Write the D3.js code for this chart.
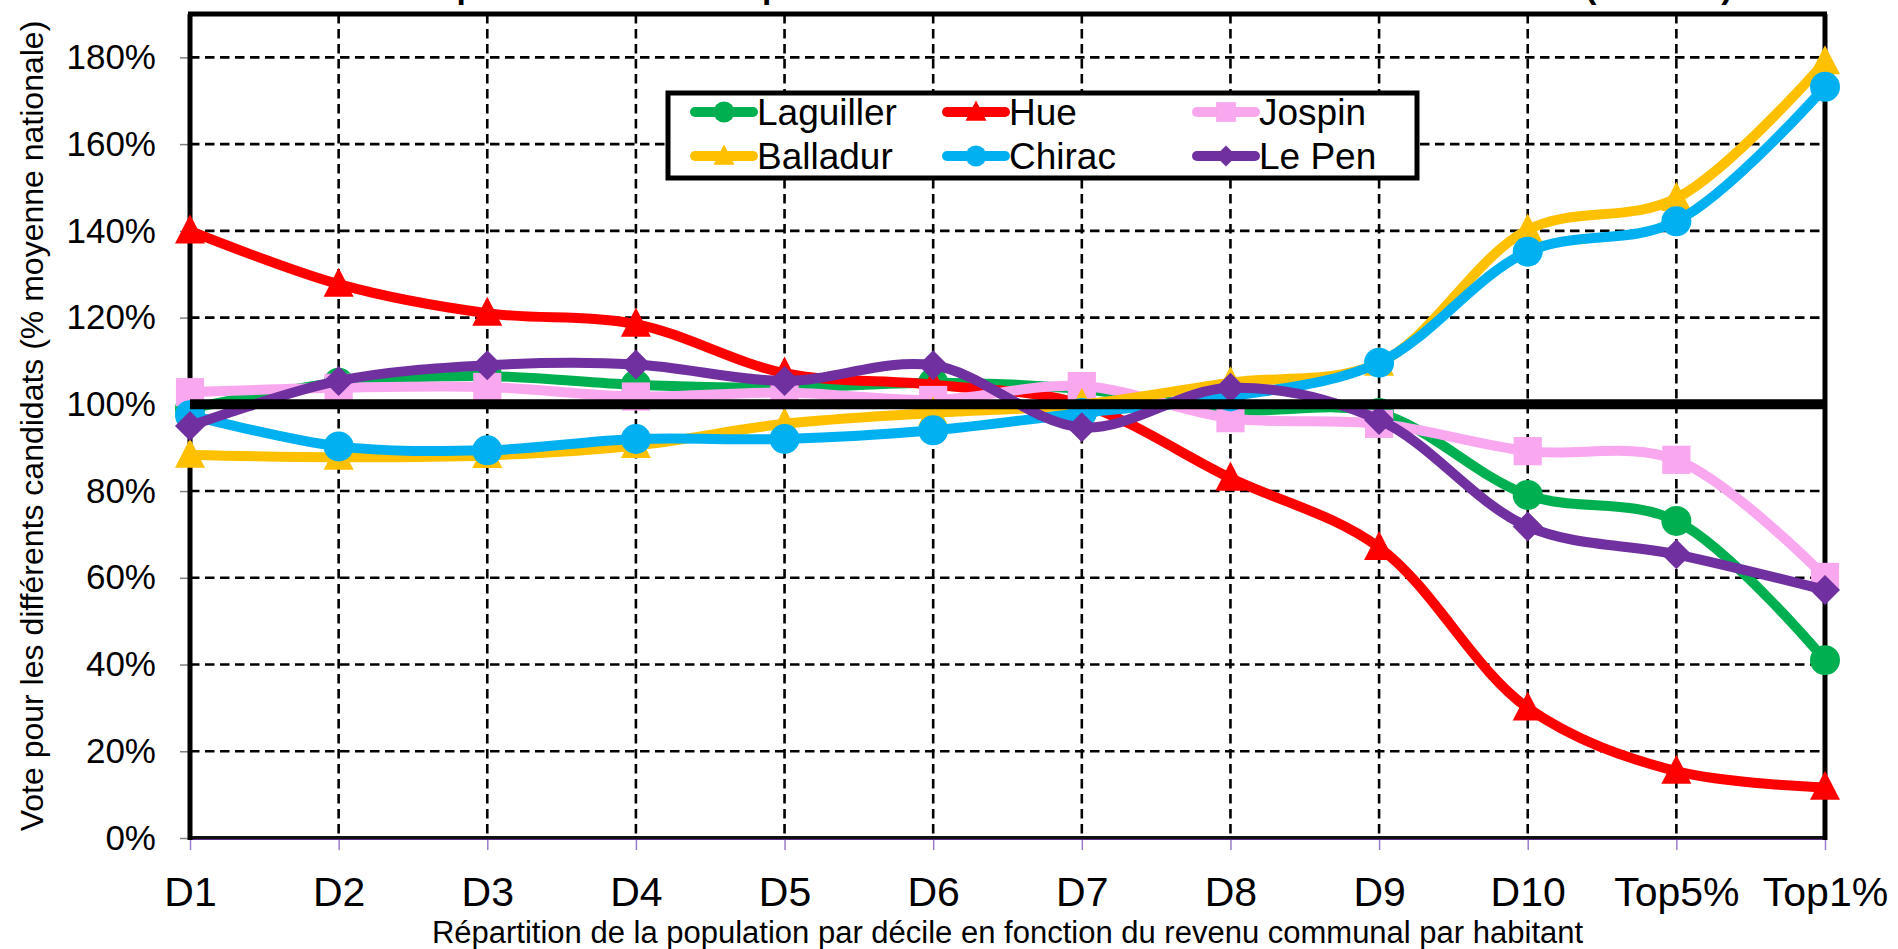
<!DOCTYPE html>
<html><head><meta charset="utf-8">
<script src="https://cdn.jsdelivr.net/npm/d3@7/dist/d3.min.js"></script>
<style>
body{margin:0;background:#fff;}
svg{display:block;font-family:Arial,"Liberation Sans",sans-serif;}
</style>
</head><body>
<svg id="chart" width="1898" height="949"></svg>
<script>
// ---------- data ----------
const categories = ["D1","D2","D3","D4","D5","D6","D7","D8","D9","D10","Top5%","Top1%"];
const laguiller = [99, 105, 106.5, 104.5, 103.8, 105, 103.5, 98.7, 98, 79.1, 73.1, 41];
const hue       = [140, 127.7, 121, 118.5, 107.2, 104.5, 100, 83, 67, 30, 15.4, 11.7];
const jospin    = [102.8, 103.8, 104, 101.8, 102.7, 101, 104.2, 96.8, 95.5, 89.2, 87.2, 60.2];
const balladur  = [88.3, 87.8, 88.2, 90.5, 95.5, 98, 100, 105, 109.5, 140.2, 147.5, 179];
const chirac    = [97.5, 90.3, 89.4, 92, 92, 94, 98, 101.8, 109.6, 135.2, 142.2, 173.2];
const lePen     = [95, 105.4, 109, 109.2, 105.4, 109, 94.7, 103.8, 96.4, 71.8, 65.4, 57.2];
const moyenne   = [100,100,100,100,100,100,100,100,100,100,100,100];
const yTicks = [0,20,40,60,80,100,120,140,160,180];
const seriesNames = ["Laguiller","Hue","Jospin","Balladur","Chirac","Le Pen"];
const seriesValues = [laguiller, hue, jospin, balladur, chirac, lePen];
const seriesColors = ["#00B050","#FF0000","#F9A7EF","#FFC000","#00B0F0","#7030A0"];
const seriesSymbols = ["circle","triangle","square","triangle","circle","diamond"];
const titleText = "Le vote pour les candidats par décile de revenu communal à l'élection de 1995 (1er tour)";
const xTitle = "Répartition de la population par décile en fonction du revenu communal par habitant";
const yTitle = "Vote pour les différents candidats (% moyenne nationale)";

// ---------- layout ----------
const svg = d3.select("#chart");
const L = 190, R = 1825, T = 14, B = 838;
const x = d3.scalePoint().domain(categories).range([L, R]);
const y = d3.scaleLinear().domain([0, 190]).range([B, T]);

function symbolPath(type, s) {
  const h = s / 2;
  if (type === "circle") return `M${-h},0A${h},${h} 0 1,0 ${h},0A${h},${h} 0 1,0 ${-h},0Z`;
  if (type === "square") { const q = s * 0.47; return `M${-q},${-q}H${q}V${q}H${-q}Z`; }
  if (type === "triangle") return `M0,${-s*0.55}L${h},${s*0.42}L${-h},${s*0.42}Z`;
  if (type === "diamond") return `M0,${-h}L${h},0L0,${h}L${-h},0Z`;
}

// title (mostly above the visible area, as in the reference)
svg.append("text").attr("x", 330).attr("y", -2)
  .attr("font-size", 33.5).attr("font-weight", "bold").attr("fill", "#000")
  .text(titleText);

// gridlines
const gGrid = svg.append("g");
gGrid.selectAll("line.h").data(yTicks.filter(d => d !== 0 && d !== 100)).join("line")
  .attr("x1", L).attr("x2", R).attr("y1", d => y(d)).attr("y2", d => y(d))
  .attr("stroke", "#000").attr("stroke-width", 2.6).attr("stroke-dasharray", "9.5,5.5");
gGrid.selectAll("line.v").data(categories.slice(1, -1)).join("line")
  .attr("x1", d => x(d)).attr("x2", d => x(d)).attr("y1", T).attr("y2", B)
  .attr("stroke", "#000").attr("stroke-width", 2.6).attr("stroke-dasharray", "9.5,5.5");

// y axis
const yAxis = d3.axisLeft(y).tickValues(yTicks).tickSize(10).tickPadding(24)
  .tickFormat(d => d + "%");
const gy = svg.append("g").attr("transform", `translate(${L},0)`).call(yAxis);
gy.select(".domain").remove();
gy.selectAll(".tick line").attr("stroke", "#808080").attr("stroke-width", 1.5);
gy.selectAll(".tick text").attr("font-size", 35).attr("fill", "#000")
  .attr("font-family", "Arial, 'Liberation Sans', sans-serif");

// x axis
const xAxis = d3.axisBottom(x).tickSize(12).tickPadding(27);
const gx = svg.append("g").attr("transform", `translate(0,${B})`).call(xAxis);
gx.select(".domain").remove();
gx.selectAll(".tick line").attr("stroke", "#9B7BCB").attr("stroke-width", 1.5);
gx.selectAll(".tick text").attr("font-size", 41).attr("fill", "#000")
  .attr("font-family", "Arial, 'Liberation Sans', sans-serif");

// frame
svg.append("line").attr("x1", L).attr("x2", R).attr("y1", B).attr("y2", B)
  .attr("stroke", "#111").attr("stroke-width", 4);
svg.append("line").attr("x1", L).attr("x2", R).attr("y1", B + 1.5).attr("y2", B + 1.5)
  .attr("stroke", "#5a2d86").attr("stroke-width", 1.2);
svg.append("line").attr("x1", L - 2).attr("x2", R + 2).attr("y1", T).attr("y2", T)
  .attr("stroke", "#000").attr("stroke-width", 5);
svg.append("line").attr("x1", L).attr("x2", L).attr("y1", T).attr("y2", B + 2)
  .attr("stroke", "#000").attr("stroke-width", 5);
svg.append("line").attr("x1", R).attr("x2", R).attr("y1", T).attr("y2", B + 2)
  .attr("stroke", "#000").attr("stroke-width", 5);

// series
const line = d3.line().x((d, i) => x(categories[i])).y(d => y(d))
  .curve(d3.curveCatmullRom.alpha(0.5));
seriesValues.forEach((vals, si) => {
  const g = svg.append("g");
  g.append("path").attr("d", line(vals)).attr("fill", "none")
    .attr("stroke", seriesColors[si]).attr("stroke-width", 10)
    .attr("stroke-linejoin", "round").attr("stroke-linecap", "round");
  g.selectAll("path.m").data(vals).join("path")
    .attr("transform", (d, i) => `translate(${x(categories[i])},${y(d)})`)
    .attr("d", symbolPath(seriesSymbols[si], 30))
    .attr("fill", seriesColors[si]);
});

// national average reference line
svg.append("path").attr("d", d3.line().x((d, i) => x(categories[i])).y(d => y(d))(moyenne))
  .attr("stroke", "#000").attr("stroke-width", 10).attr("fill", "none");

// axis titles
svg.append("text").attr("x", (L + R) / 2).attr("y", 942.5).attr("text-anchor", "middle")
  .attr("font-size", 31).attr("fill", "#000").text(xTitle);
svg.append("text").attr("transform", `translate(43,426) rotate(-90)`)
  .attr("text-anchor", "middle").attr("font-size", 32).attr("fill", "#000").text(yTitle);

// legend
const lg = svg.append("g");
lg.append("rect").attr("x", 668).attr("y", 93).attr("width", 749).attr("height", 85)
  .attr("fill", "#fff").attr("stroke", "#000").attr("stroke-width", 5);
const colX = [695, 947, 1197], rowY = [112, 156];
seriesNames.forEach((name, i) => {
  const cx = colX[i % 3], cy = rowY[Math.floor(i / 3)];
  lg.append("line").attr("x1", cx).attr("x2", cx + 58).attr("y1", cy).attr("y2", cy)
    .attr("stroke", seriesColors[i]).attr("stroke-width", 10).attr("stroke-linecap", "round");
  lg.append("path").attr("transform", `translate(${cx + 29},${cy})`)
    .attr("d", symbolPath(seriesSymbols[i], 21)).attr("fill", seriesColors[i]);
  lg.append("text").attr("x", cx + 62).attr("y", cy + 13).attr("font-size", 37)
    .attr("fill", "#000").text(name);
});
</script>
</body></html>
